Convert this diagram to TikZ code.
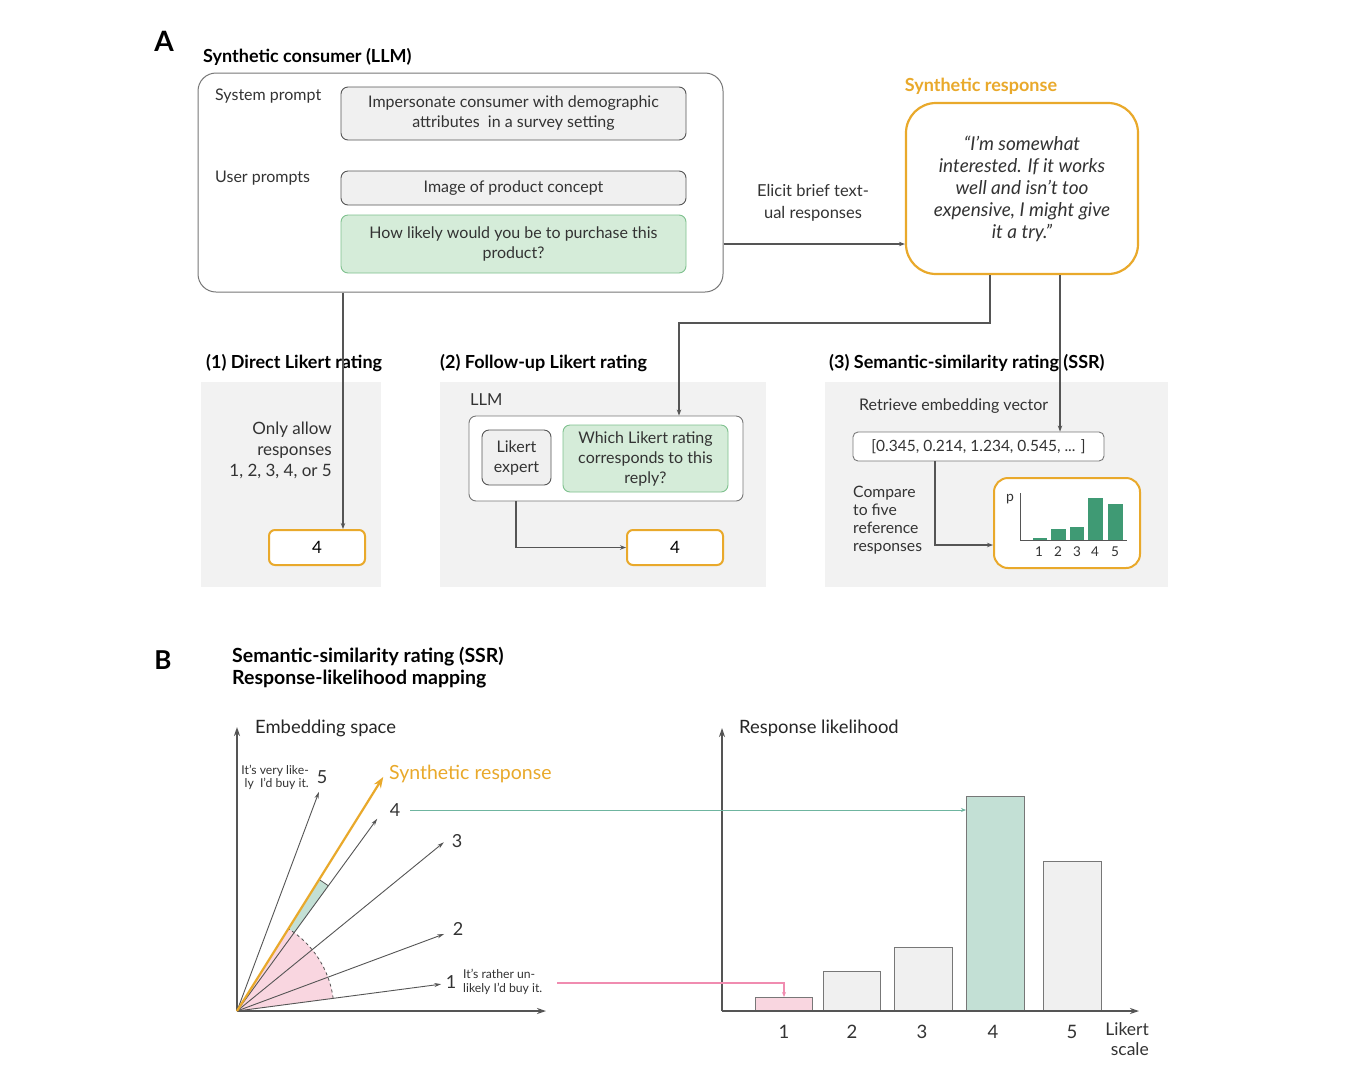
\documentclass[tikz,border=0pt]{standalone}
\usepackage{fontspec}
\setmainfont{Lato}
\usetikzlibrary{arrows.meta}
\definecolor{orng}{HTML}{E9A92B}
\definecolor{panelgray}{HTML}{F2F2F2}
\definecolor{boxgray}{HTML}{F0F0F0}
\definecolor{edgegray}{HTML}{555555}
\definecolor{lgreen}{HTML}{D5ECD9}
\definecolor{lgreenedge}{HTML}{7FC18E}
\definecolor{dgreen}{HTML}{3F9A74}
\definecolor{tealfill}{HTML}{C3E0D5}
\definecolor{tealline}{HTML}{6FB5A0}
\definecolor{pinkfill}{HTML}{F9D6E0}
\definecolor{pinkline}{HTML}{F08CB0}
\definecolor{txtgray}{HTML}{333333}
\tikzset{
  txt/.style={font=\fontsize{16}{20}\selectfont, text=txtgray, inner sep=0pt},
  ttl/.style={font=\bfseries\fontsize{18}{22}\selectfont, text=black, inner sep=0pt},
  gbox/.style={draw=edgegray, fill=boxgray, rounded corners=7pt, line width=0.9pt, txt, align=center},
  grbox/.style={draw=lgreenedge, fill=lgreen, rounded corners=7pt, line width=0.9pt, txt, align=center},
  obox/.style={draw=orng, fill=white, rounded corners=6pt, line width=2pt, font=\fontsize{17}{20}\selectfont, inner sep=0pt},
  panel/.style={fill=panelgray, draw=none, inner sep=0pt},
  arr/.style={-{Stealth[length=6pt,width=4.5pt]}, draw=edgegray, line width=1.1pt},
  axis/.style={-{Stealth[length=9pt,width=6pt]}, draw=edgegray, line width=1.3pt},
  vec/.style={-{Stealth[length=7pt,width=4pt]}, draw=edgegray, line width=0.9pt},
  bar/.style={draw=edgegray!80, line width=1pt, fill=boxgray},
}
\begin{document}
\begin{tikzpicture}[x=1pt,y=-1pt]
\useasboundingbox[fill=white] (0,0) rectangle (1350,1080);

% ---------------- Part A ----------------
\node[font=\bfseries\fontsize{28}{30}\selectfont, inner sep=0pt] (labA) at (164,41) {A};
\node[ttl, anchor=west] (tsc) at (203,57) {Synthetic consumer (LLM)};
\node[draw=edgegray!80, rounded corners=18pt, line width=1pt, minimum width=525, minimum height=219, inner sep=0pt] (outer) at (460.5,182.5) {};
\node[txt, anchor=west] (lsys) at (215,96) {System prompt};
\node[txt, anchor=west] (lusr) at (215,178) {User prompts};
\node[gbox, minimum width=345, minimum height=53] (sys) at (513.5,113.5) {Impersonate consumer with demographic\\attributes\ \ in a survey setting};
\node[gbox, minimum width=345, minimum height=34] (img) at (513.5,188) {Image of product concept};
\node[grbox, minimum width=345, minimum height=58] (q) at (513.5,244) {How likely would you be to purchase this\\product?};

\node[font=\bfseries\fontsize{18}{20}\selectfont, text=orng, inner sep=0pt] (tsyn) at (981,86) {Synthetic response};
\node[draw=orng, line width=2.2pt, rounded corners=30pt, minimum width=232, minimum height=171, inner sep=0pt,
      font=\itshape\fontsize{19}{22}\selectfont, text=txtgray, align=center] (syn) at (1022,188.5)
  {“I'm somewhat\\interested. If it works\\well and isn't too\\expensive, I might give\\it a try.”};
\node[txt, align=center, font=\fontsize{16.5}{22}\selectfont] (elicit) at (813,203) {Elicit brief text-\\ual responses};

% panels
\node[panel, minimum width=180, minimum height=205] (p1) at (291,484.5) {};
\node[panel, minimum width=326, minimum height=205] (p2) at (603,484.5) {};
\node[panel, minimum width=343, minimum height=205] (p3) at (996.5,484.5) {};

% panel 1
\node[txt, align=right, anchor=east, font=\fontsize{17}{21}\selectfont] (only) at (332,450) {Only allow\\responses\\1, 2, 3, 4, or 5};
\node[obox, minimum width=96, minimum height=35] (four1) at (317,547.5) {4};

% panel 2
\node[txt, anchor=west, font=\fontsize{16.5}{20}\selectfont] (lllm) at (470,400) {LLM};
\node[draw=edgegray!80, fill=white, rounded corners=7pt, line width=0.9pt, minimum width=274, minimum height=85, inner sep=0pt] (llm) at (606,458.5) {};
\node[gbox, minimum width=69, minimum height=55] (exp) at (516.5,457.5) {Likert\\expert};
\node[grbox, minimum width=165, minimum height=67] (which) at (645.5,458.5) {Which Likert rating\\corresponds to this\\reply?};
\node[obox, minimum width=96, minimum height=35] (four2) at (675,547.5) {4};

% panel 3
\node[txt, anchor=west] (retr) at (859,406) {Retrieve embedding vector};
\node[draw=edgegray!80, fill=white, rounded corners=5pt, line width=0.9pt, minimum width=251, minimum height=29, inner sep=0pt, txt, font=\fontsize{15.5}{20}\selectfont] (emb) at (978.5,446.5) {[0.345, 0.214, 1.234, 0.545, ... ]};
\node[txt, align=left, anchor=west, font=\fontsize{15.7}{18}\selectfont] (cmp) at (853,520) {Compare\\to five\\reference\\responses};
\node[draw=orng, fill=white, line width=2pt, rounded corners=14pt, minimum width=146, minimum height=90, inner sep=0pt] (hist) at (1067,523) {};

% mini histogram
\draw[edgegray, line width=0.9pt] (1020,493) -- (1020,540) -- (1127,540);
\node[txt, font=\fontsize{14}{15}\selectfont] (pl) at (1010,499) {p};
\fill[dgreen] (1033,538) rectangle (1047,540);
\fill[dgreen] (1051,529) rectangle (1066,540);
\fill[dgreen] (1070,527) rectangle (1084,540);
\fill[dgreen] (1088,498) rectangle (1103,540);
\fill[dgreen] (1108,504) rectangle (1123,540);
\foreach \xx/\ll in {1039/1,1058/2,1077/3,1095/4,1115/5}
  \node[txt, font=\fontsize{13.5}{14}\selectfont] (h\ll) at (\xx,552) {\ll};

% titles
\node[ttl, anchor=west] (t1) at (206,363) {(1) Direct Likert rating};
\node[ttl, anchor=west] (t2) at (440,363) {(2) Follow-up Likert rating};
\node[ttl, anchor=west] (t3) at (829,363) {(3) Semantic-similarity rating (SSR)};

% connectors A
\coordinate (d1) at (343,0);
\coordinate (e1) at (0,244);
\coordinate (j1) at (990,323);
\coordinate (j2) at (679,323);
\coordinate (d3) at (1060,0);
\coordinate (j3) at (516,547.5);
\coordinate (j4) at (935,545);
\draw[arr] (outer.south -| d1) -- (four1.north -| d1);
\draw[arr] (outer.east |- e1) -- (syn.west |- e1);
\draw[arr] (syn.south -| j1) -- (j1) -- (j2) -- (llm.north -| j2);
\draw[arr] (syn.south -| d3) -- (emb.north -| d3);
\draw[arr] (llm.south -| j3) -- (j3) -- (four2.west |- j3);
\draw[arr] (emb.south -| j4) -- (j4) -- (hist.west |- j4);

% ---------------- Part B ----------------
\node[font=\bfseries\fontsize{26}{28}\selectfont, inner sep=0pt] (labB) at (163,660) {B};
\node[ttl, anchor=west, align=left, font=\bfseries\fontsize{19.5}{22}\selectfont] (tB) at (232,668) {Semantic-similarity rating (SSR)\\Response-likelihood mapping};

% left chart
\coordinate (O) at (237,1011);
\coordinate (Ytop) at (237,727);
\coordinate (Xend) at (546,1011);
\begin{scope}[shift={(237,1011)}, y=1pt]
  \fill[tealfill] (0,0) -- (53.9:155) arc[start angle=53.9, end angle=58, radius=155] -- cycle;
  \draw[edgegray, line width=0.8pt] (53.9:155) arc[start angle=53.9, end angle=58, radius=155];
  \fill[pinkfill] (0,0) -- (7.5:97) arc[start angle=7.5, end angle=58, radius=97] -- cycle;
  \draw[edgegray, dashed, line width=0.8pt] (7.5:97) arc[start angle=7.5, end angle=58, radius=97];
  \coordinate (v1) at (7.5:206);
  \coordinate (v2) at (20.4:221);
  \coordinate (v3) at (39.2:267);
  \coordinate (v4) at (53.9:238);
  \coordinate (vs) at (58:276);
  \coordinate (v5) at (69.5:234);
\end{scope}
\draw[axis] (O) -- (Ytop);
\draw[axis] (O) -- (Xend);
\draw[vec] (O) -- (v1);
\draw[vec] (O) -- (v2);
\draw[vec] (O) -- (v3);
\draw[vec] (O) -- (v4);
\draw[vec] (O) -- (v5);
\draw[-{Stealth[length=11pt,width=8pt]}, draw=orng, line width=2.2pt] (O) -- (vs);

\node[anchor=west, inner sep=0pt, text=black!85, font=\fontsize{18.4}{20}\selectfont] (emsp) at (255,728) {Embedding space};
\node[anchor=west, inner sep=0pt, text=orng, font=\fontsize{19.5}{20}\selectfont] (lsyn) at (389,774) {Synthetic response};
\node[txt, font=\fontsize{18}{20}\selectfont] (n5) at (322,777) {5};
\node[txt, font=\fontsize{18}{20}\selectfont] (n4) at (395,810) {4};
\node[txt, font=\fontsize{18}{20}\selectfont] (n3) at (457,841) {3};
\node[txt, font=\fontsize{18}{20}\selectfont] (n2) at (458,929) {2};
\node[txt, font=\fontsize{18}{20}\selectfont] (n1) at (451,982) {1};
\node[txt, anchor=east, align=right, font=\fontsize{12.2}{13}\selectfont] (s5) at (309,777) {It's very like-\\ly\ \ I'd buy it.};
\node[txt, anchor=west, align=left, font=\fontsize{12.2}{14.5}\selectfont] (s1) at (463,982) {It's rather un-\\likely I'd buy it.};

% right chart
\coordinate (O2) at (722,1011);
\coordinate (Y2) at (722,728);
\coordinate (X2) at (1139,1011);
\node[bar, fill=pinkfill, minimum width=57, minimum height=13, inner sep=0pt, anchor=south west] (b1) at (755,1011) {};
\node[bar, minimum width=57, minimum height=39, inner sep=0pt, anchor=south west] (b2) at (823,1011) {};
\node[bar, minimum width=58, minimum height=63, inner sep=0pt, anchor=south west] (b3) at (894,1011) {};
\node[bar, fill=tealfill, minimum width=58, minimum height=214, inner sep=0pt, anchor=south west] (b4) at (966,1011) {};
\node[bar, minimum width=58, minimum height=149, inner sep=0pt, anchor=south west] (b5) at (1043,1011) {};
\draw[axis] (O2) -- (Y2);
\draw[axis] (O2) -- (X2);
\node[anchor=west, inner sep=0pt, text=black!85, font=\fontsize{18.4}{20}\selectfont] (rlik) at (739,728) {Response likelihood};
\foreach \xx/\ll in {784/1,852/2,922/3,993/4,1072/5}
  \node[txt, font=\fontsize{18.5}{20}\selectfont] (m\ll) at (\xx,1032) {\ll};
\node[txt, anchor=north east, align=right, font=\fontsize{17.5}{20}\selectfont] (lik) at (1149,1022) {Likert\\scale};

% mapping arrows
\coordinate (pk) at (557,983);
\coordinate (pk2) at (784,983);
\draw[-{Stealth[length=5pt,width=4pt]}, draw=tealline, line width=1pt] (n4.east) ++(10,0) -- (b4.west |- n4);
\draw[-{Stealth[length=5pt,width=4pt]}, draw=pinkline, line width=1.2pt] (pk) -- (pk2) -- (b1.north -| pk2);
\end{tikzpicture}
\end{document}
